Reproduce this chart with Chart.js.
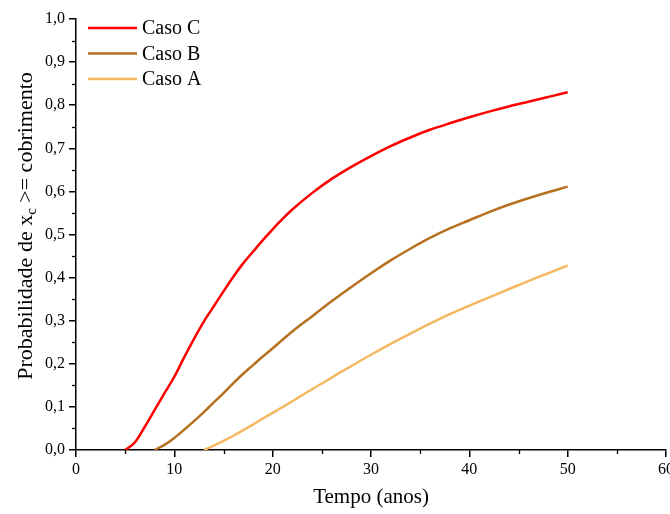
<!DOCTYPE html>
<html>
<head>
<meta charset="utf-8">
<script src="https://cdn.jsdelivr.net/npm/chart.js@4.4.1/dist/chart.umd.min.js"></script>
<style>
  html, body { margin: 0; padding: 0; background: #fff; overflow: hidden; }
  #wrap { position: absolute; left: 0; top: 0; width: 684px; height: 514px; }
</style>
</head>
<body>
<div id="wrap"><canvas id="chart"></canvas></div>
<script>
// data (tempo in anos, probabilidade)
const casoCx = [5, 6, 7, 8, 9, 10, 11, 12, 13, 14, 15, 16, 17, 18, 19, 20, 21, 22, 24, 26, 28, 30, 32, 34, 36, 38, 40, 42, 44, 46, 48, 50];
const casoCy = [0, 0.018, 0.054, 0.093, 0.132, 0.17, 0.215, 0.258, 0.298, 0.333, 0.368, 0.402, 0.433, 0.46, 0.487, 0.512, 0.536, 0.558, 0.596, 0.629, 0.657, 0.682, 0.705, 0.725, 0.743, 0.758, 0.772, 0.785, 0.797, 0.808, 0.819, 0.83];

const casoBx = [8, 9, 10, 11, 12, 13, 14, 15, 16, 17, 18, 19, 20, 22, 24, 26, 28, 30, 32, 34, 36, 38, 40, 42, 44, 46, 48, 50];
const casoBy = [0, 0.012, 0.028, 0.047, 0.067, 0.088, 0.11, 0.132, 0.155, 0.177, 0.197, 0.217, 0.236, 0.275, 0.31, 0.345, 0.378, 0.41, 0.44, 0.467, 0.492, 0.514, 0.533, 0.552, 0.569, 0.584, 0.598, 0.611];

const casoAx = [13, 14, 15, 16, 17, 18, 19, 20, 22, 24, 26, 28, 30, 32, 34, 36, 38, 40, 42, 44, 46, 48, 50];
const casoAy = [0, 0.01, 0.021, 0.033, 0.046, 0.059, 0.073, 0.086, 0.113, 0.141, 0.168, 0.195, 0.221, 0.246, 0.27, 0.293, 0.315, 0.335, 0.354, 0.373, 0.392, 0.41, 0.428];

const xTicks = [0, 10, 20, 30, 40, 50, 60];
const yTicks = [0, 0.1, 0.2, 0.3, 0.4, 0.5, 0.6, 0.7, 0.8, 0.9, 1.0];

const toPoints = (xs, ys) => xs.map((x, i) => ({ x: x, y: ys[i] }));

const FONT = "'Liberation Serif', 'Times New Roman', serif";

// minor ticks, y title with subscript and the inset legend
const extras = {
  id: 'extras',
  afterDraw(chart) {
    const ctx = chart.ctx;
    const xs = chart.scales.x, ys = chart.scales.y;
    const area = chart.chartArea;
    ctx.save();
    ctx.strokeStyle = '#000';
    ctx.lineWidth = 1.3;
    // minor ticks
    for (let v = 5; v < 60; v += 10) {
      const px = Math.round(xs.getPixelForValue(v)) + 0.5;
      ctx.beginPath();
      ctx.moveTo(px, area.bottom);
      ctx.lineTo(px, area.bottom + 4);
      ctx.stroke();
    }
    for (let v = 0.05; v < 1; v += 0.1) {
      const py = Math.round(ys.getPixelForValue(v)) + 0.5;
      ctx.beginPath();
      ctx.moveTo(area.left, py);
      ctx.lineTo(area.left - 4, py);
      ctx.stroke();
    }

    // y axis title
    ctx.translate(26, 226);
    ctx.rotate(-Math.PI / 2);
    ctx.fillStyle = '#000';
    ctx.textBaseline = 'middle';
    const big = '22px ' + FONT, small = '15px ' + FONT;
    const p1 = 'Probabilidade de x', sub = 'c', p2 = ' >= cobrimento';
    ctx.font = big;
    const w1 = ctx.measureText(p1).width, w3 = ctx.measureText(p2).width;
    ctx.font = small;
    const w2 = ctx.measureText(sub).width;
    let x0 = -(w1 + w2 + w3) / 2;
    ctx.font = big;
    ctx.textAlign = 'left';
    ctx.fillText(p1, x0, 0);
    ctx.font = small;
    ctx.fillText(sub, x0 + w1, 6);
    ctx.font = big;
    ctx.fillText(p2, x0 + w1 + w2, 0);
    ctx.restore();

    // legend
    ctx.save();
    ctx.font = '20px ' + FONT;
    ctx.textBaseline = 'middle';
    ctx.fillStyle = '#000';
    chart.data.datasets.forEach((ds, i) => {
      const y = 28 + i * 25.5;
      ctx.strokeStyle = ds.borderColor;
      ctx.lineWidth = 2.5;
      ctx.beginPath();
      ctx.moveTo(88, y);
      ctx.lineTo(137, y);
      ctx.stroke();
      ctx.fillText(ds.label, 142, y + 1);
    });
    ctx.restore();
  }
};

new Chart(document.getElementById('chart'), {
  type: 'line',
  data: {
    datasets: [
      { label: 'Caso C', data: toPoints(casoCx, casoCy), borderColor: '#ff0000' },
      { label: 'Caso B', data: toPoints(casoBx, casoBy), borderColor: '#b5711f' },
      { label: 'Caso A', data: toPoints(casoAx, casoAy), borderColor: '#f4b862' }
    ]
  },
  options: {
    responsive: true,
    maintainAspectRatio: false,
    animation: false,
    datasets: { line: { borderWidth: 2.5, pointRadius: 0, cubicInterpolationMode: 'monotone', fill: false } },
    layout: { padding: { top: 19, right: 18, left: 0, bottom: 0 } },
    plugins: { legend: { display: false }, tooltip: { enabled: false } },
    scales: {
      x: {
        type: 'linear',
        min: 0,
        max: 60,
        afterBuildTicks: (s) => { s.ticks = xTicks.map(v => ({ value: v })); },
        afterFit: (s) => { s.height = 64; },
        border: { display: true, color: '#000', width: 1.5 },
        grid: { drawOnChartArea: false, drawTicks: true, tickLength: 7, color: '#000', lineWidth: 1.5 },
        ticks: { color: '#000', font: { family: FONT, size: 16 }, padding: 3, maxRotation: 0 },
        title: { display: true, text: 'Tempo (anos)', color: '#000', font: { family: FONT, size: 21 }, padding: { top: 10 } }
      },
      y: {
        type: 'linear',
        min: 0,
        max: 1,
        afterBuildTicks: (s) => { s.ticks = yTicks.map(v => ({ value: v })); },
        afterFit: (s) => { s.width = 76; },
        border: { display: true, color: '#000', width: 1.5 },
        grid: { drawOnChartArea: false, drawTicks: true, tickLength: 7, color: '#000', lineWidth: 1.5 },
        ticks: {
          color: '#000',
          font: { family: FONT, size: 16 },
          padding: 4,
          callback: (v) => v.toFixed(1).replace('.', ',')
        }
      }
    }
  },
  plugins: [extras]
});
</script>
</body>
</html>
